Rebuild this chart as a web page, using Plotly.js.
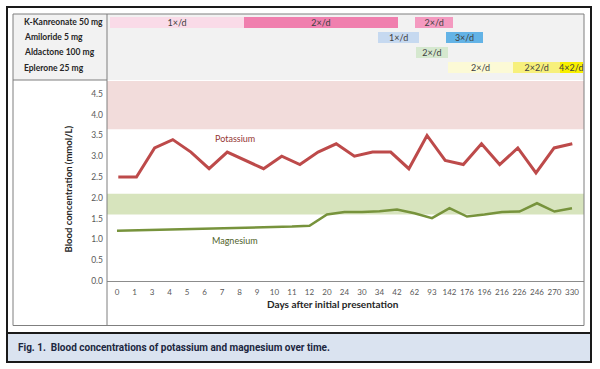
<!DOCTYPE html>
<html>
<head>
<meta charset="utf-8">
<script src="https://cdn.plot.ly/plotly-3.0.1.min.js"></script>
<style>html,body{margin:0;padding:0;background:#fff;}#chart{width:600px;height:369px;}</style>
</head>
<body>
<div id="chart"></div>
<script>
// ---- data ----
const days = ['0','1','3','4','5','6','7','8','9','10','11','12','20','24','30','34','42','62','93','142','176','196','216','226','246','270','330'];
const magnesium = [1.21,1.22,1.23,1.23,1.24,1.25,1.26,1.27,1.28,1.29,1.31,1.33,1.60,1.66,1.66,1.68,1.72,1.63,1.51,1.75,1.55,1.60,1.66,1.67,1.87,1.67,1.75];
const potassiumSample = [1,2,3,4,5,6,7,8,9,10,11,12,13,14,15,16,17,18,19,20,21,22,23,24,25,26];
const potassium = [2.5,2.5,3.2,3.4,3.1,2.7,3.1,2.9,2.7,3.0,2.8,3.1,3.3,3.0,3.1,3.1,2.7,3.5,2.9,2.8,3.3,2.8,3.2,2.6,3.2,3.3];
const potassiumRef = [3.65, 4.81];
const magnesiumRef = [1.6, 2.1];
const yTicks = [0,0.5,1,1.5,2,2.5,3,3.5,4,4.5];

const drugs = ['K-Kanreonate 50 mg','Amiloride 5 mg','Aldactone 100 mg','Eplerone 25 mg'];
const doseDrug  = [0,0,0,1,1,2,3,3,3];
const doseLabel = ['1×/d','2×/d','2×/d','1×/d','3×/d','2×/d','2×/d','2×2/d','4×2/d'];
const doseStart = [-0.4,7.26,17.03,14.93,18.78,17.09,18.9,22.65,25.31];
const doseEnd   = [7.26,16.04,19.22,17.26,20.93,18.9,22.65,25.31,26.61];
const doseColor = ['#fadbe8','#f07fae','#f49ac0','#c6d9f0','#63b3e6','#d5e8cf','#fcfad6','#f7f07c','#f8f000'];

// ---- geometry helpers (pixel -> paper) ----
const W = 600, H = 369;
const px = v => v / W;
const py = v => 1 - v / H;

const xDom = [px(107), px(584)];
const FONT = 'Lato, "Liberation Sans", Arial, sans-serif';

const traces = [
  {
    type: 'bar', orientation: 'h',
    y: doseDrug.map(i => drugs[i]),
    base: doseStart,
    x: doseEnd.map((e, i) => e - doseStart[i]),
    text: doseLabel,
    textposition: 'inside', insidetextanchor: 'middle', constraintext: 'none',
    textfont: {family: FONT, size: 9, color: '#404040'},
    marker: {color: doseColor, line: {width: 0}},
    width: 0.72,
    xaxis: 'x3', yaxis: 'y3', hoverinfo: 'skip', showlegend: false
  },
  {
    type: 'scatter', mode: 'lines',
    x: days, y: magnesium,
    line: {color: '#77933c', width: 2.5},
    xaxis: 'x', yaxis: 'y', showlegend: false
  },
  {
    type: 'scatter', mode: 'lines',
    x: potassiumSample, y: potassium,
    line: {color: '#bd4a4a', width: 3},
    xaxis: 'x2', yaxis: 'y', showlegend: false
  }
];

const shapes = [
  {type:'rect', xref:'paper', yref:'paper', x0:px(13), x1:px(584), y0:py(80), y1:py(14), fillcolor:'#f2f2f2', line:{width:0}, layer:'below'},
  {type:'rect', xref:'paper', yref:'y', x0:xDom[0], x1:xDom[1], y0:potassiumRef[0], y1:potassiumRef[1], fillcolor:'#f2dcdb', line:{width:0}, layer:'below'},
  {type:'rect', xref:'paper', yref:'y', x0:xDom[0], x1:xDom[1], y0:magnesiumRef[0], y1:magnesiumRef[1], fillcolor:'#d7e4bd', line:{width:0}, layer:'below'},
  {type:'rect', xref:'paper', yref:'paper', x0:px(13), x1:px(584), y0:py(325.5), y1:py(14), line:{color:'#7f7f7f', width:1}, fillcolor:'rgba(0,0,0,0)', layer:'above'},
  {type:'line', xref:'paper', yref:'paper', x0:px(107), x1:px(107), y0:py(325.5), y1:py(14), line:{color:'#7f7f7f', width:1}, layer:'above'},
  {type:'line', xref:'paper', yref:'paper', x0:px(13), x1:px(107), y0:py(80), y1:py(80), line:{color:'#7f7f7f', width:1}, layer:'above'},
  {type:'rect', xref:'paper', yref:'paper', x0:px(7), x1:px(591), y0:py(362), y1:py(333), fillcolor:'#dae3f0', line:{color:'#1a1a1a', width:2}, layer:'above'},
  {type:'rect', xref:'paper', yref:'paper', x0:px(7), x1:px(591), y0:py(362), y1:py(7), line:{color:'#1a1a1a', width:2}, fillcolor:'rgba(0,0,0,0)', layer:'above'}
];

const annotations = drugs.map(d => ({
  xref:'paper', yref:'y3', x:px(22), y:d, xanchor:'left', yanchor:'middle',
  text:'<b>'+d+'</b>', showarrow:false, font:{family:FONT, size:8.5, color:'#262626'}
}));
annotations.push(
  {xref:'paper', yref:'y', x:px(235), y:3.42, text:'Potassium', showarrow:false, font:{family:FONT, size:9, color:'#953735'}},
  {xref:'paper', yref:'y', x:px(235), y:0.97, text:'Magnesium', showarrow:false, font:{family:FONT, size:9, color:'#4f6228'}},
  {xref:'paper', yref:'paper', x:px(60), y:py(189), text:'<b>Blood concentration (mmol/L)</b>', textangle:-90, showarrow:false, font:{family:FONT, size:9.5, color:'#262626'}},
  {xref:'paper', yref:'paper', x:px(333), y:py(312), text:'<b>Days after initial presentation</b>', showarrow:false, font:{family:FONT, size:10, color:'#262626'}},
  {xref:'paper', yref:'paper', x:px(16), y:py(347.5), xanchor:'left', yanchor:'middle', text:'<b>Fig. 1.</b>  <b>Blood concentrations of potassium and magnesium over time.</b>', showarrow:false, font:{family:'Roboto, sans-serif', size:10, color:'#1c2740'}}
);

const layout = {
  width: W, height: H,
  margin: {l:0, r:0, t:0, b:0},
  paper_bgcolor: '#ffffff', plot_bgcolor: 'rgba(0,0,0,0)',
  showlegend: false,
  xaxis: {
    domain: xDom, anchor:'y', type:'category', categoryarray: days, categoryorder:'array',
    range: [-0.571, 26.686], showgrid:false, zeroline:false,
    showline:true, linecolor:'#8c8c8c', linewidth:1, ticks:'', ticklabelstandoff: 3,
    tickangle: 0, automargin:false,
    tickfont:{family:FONT, size:8, color:'#595959'}
  },
  xaxis2: {
    overlaying:'x', anchor:'y', type:'linear', range:[0.378, 26.644], visible:false
  },
  yaxis: {
    domain: [py(281), py(81)], range:[0, 4.81], showgrid:false, zeroline:false, showline:false,
    tickvals: yTicks, tickformat:'.1f', ticks:'', ticklabelstandoff: 3,
    tickfont:{family:FONT, size:8.5, color:'#595959'}
  },
  xaxis3: {
    domain: xDom, anchor:'y3', type:'linear', range:[-0.571, 26.686], visible:false
  },
  yaxis3: {
    domain: [py(80), py(14)], anchor:'x3', type:'category', categoryarray: drugs, categoryorder:'array',
    range:[3.82, -0.53], visible:false
  },
  bargap: 0,
  shapes: shapes,
  annotations: annotations
};

Plotly.newPlot('chart', traces, layout, {displayModeBar:false, staticPlot:true});
</script>
</body>
</html>
